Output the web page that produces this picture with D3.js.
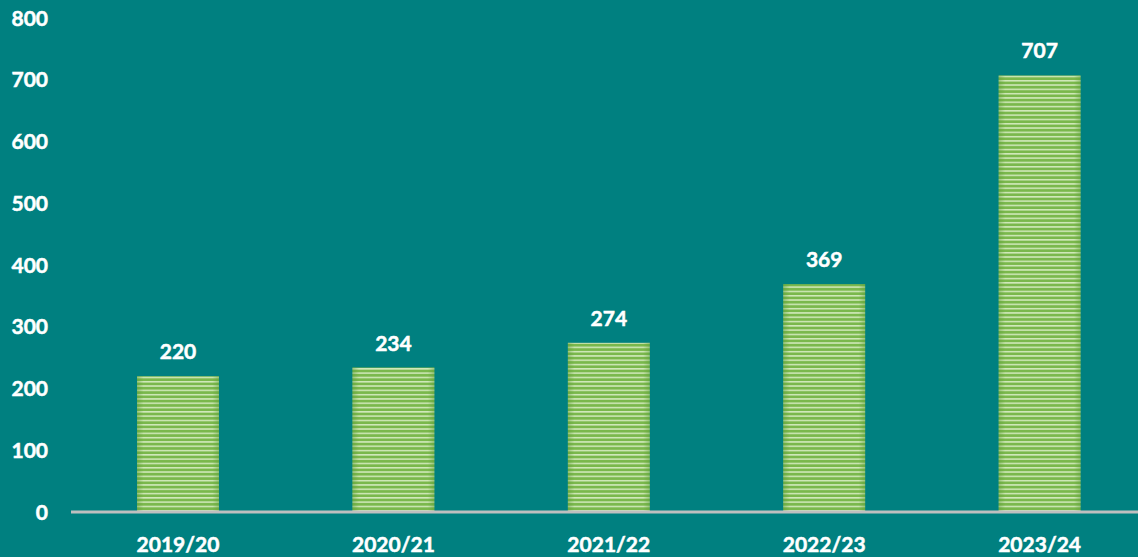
<!DOCTYPE html>
<html>
  <head>
    <meta charset="utf-8">
    <title>Yearly totals</title>
    <script src="https://cdn.jsdelivr.net/npm/d3@7"></script>
    <style>
      body { margin: 0; background: #008080; }
      #chart { display: block; width: 1138px; height: 557px; background: #008080; }
      text { font-family: Lato, "Open Sans", sans-serif; font-weight: 700; fill: #fff; stroke: #fff; stroke-width: 0.5px; }
    </style>
  </head>
  <body>
    <svg id="chart" width="1138" height="557"></svg>

    <script>
      // data
      years = ["2019/20", "2020/21", "2021/22", "2022/23", "2023/24"];
      values = [220, 234, 274, 369, 707];
      yTicks = [0, 100, 200, 300, 400, 500, 600, 700, 800];

      chart = d3.select("#chart");
      width = 1138;
      height = 557;
      margin = { top: 18, right: 0, bottom: 45, left: 71 };

      // striped bar fill
      defs = chart.append("defs");
      pattern = defs.append("pattern")
        .attr("id", "stripes")
        .attr("patternUnits", "userSpaceOnUse")
        .attr("width", 8)
        .attr("height", 4.3);
      pattern.append("rect")
        .attr("width", 8).attr("height", 4.3)
        .attr("fill", "#7ab84c");
      pattern.append("rect")
        .attr("y", 2.6)
        .attr("width", 8).attr("height", 1.5)
        .attr("fill", "#d3eabd");

      edge = defs.append("linearGradient").attr("id", "edge");
      edge.append("stop").attr("offset", "0").attr("stop-color", "#5a9a36").attr("stop-opacity", 0.45);
      edge.append("stop").attr("offset", "0.08").attr("stop-color", "#5a9a36").attr("stop-opacity", 0);
      edge.append("stop").attr("offset", "0.92").attr("stop-color", "#5a9a36").attr("stop-opacity", 0);
      edge.append("stop").attr("offset", "1").attr("stop-color", "#5a9a36").attr("stop-opacity", 0.45);

      x = d3.scaleBand()
        .domain(years)
        .range([70.3, 1147.3])
        .padding(0);

      y = d3.scaleLinear()
        .domain([0, 800])
        .range([height - margin.bottom, margin.top]);

      barWidth = x.bandwidth() * 0.38;

      // y axis labels
      chart.append("g")
        .selectAll("text")
        .data(yTicks)
        .enter().append("text")
          .attr("x", 48)
          .attr("y", d => y(d))
          .attr("dy", "0.36em")
          .attr("text-anchor", "end")
          .style("font-size", "21px")
          .text(d => d);

      // bars
      bars = chart.append("g");
      bars.selectAll(".bar")
        .data(values)
        .enter().append("rect")
          .classed("bar", true)
          .attr("x", (d, i) => x(years[i]) + (x.bandwidth() - barWidth) / 2)
          .attr("y", d => y(d))
          .attr("width", barWidth)
          .attr("height", d => y(0) - y(d))
          .attr("fill", "url(#stripes)");
      bars.selectAll(".shade")
        .data(values)
        .enter().append("rect")
          .classed("shade", true)
          .attr("x", (d, i) => x(years[i]) + (x.bandwidth() - barWidth) / 2)
          .attr("y", d => y(d))
          .attr("width", barWidth)
          .attr("height", d => y(0) - y(d))
          .attr("fill", "url(#edge)");

      // value labels
      chart.append("g")
        .selectAll("text")
        .data(values)
        .enter().append("text")
          .attr("x", (d, i) => x(years[i]) + x.bandwidth() / 2)
          .attr("y", d => y(d) - 17)
          .attr("text-anchor", "middle")
          .style("font-size", "21px")
          .text(d => d);

      // baseline
      chart.append("line")
        .attr("x1", margin.left)
        .attr("x2", width)
        .attr("y1", y(0))
        .attr("y2", y(0))
        .style("stroke", "#bfbfbf")
        .style("stroke-width", 3);

      // category labels
      chart.append("g")
        .selectAll("text")
        .data(years)
        .enter().append("text")
          .attr("x", d => x(d) + x.bandwidth() / 2)
          .attr("y", 552)
          .attr("text-anchor", "middle")
          .style("font-size", "21px")
          .text(d => d);
    </script>
  </body>
</html>
